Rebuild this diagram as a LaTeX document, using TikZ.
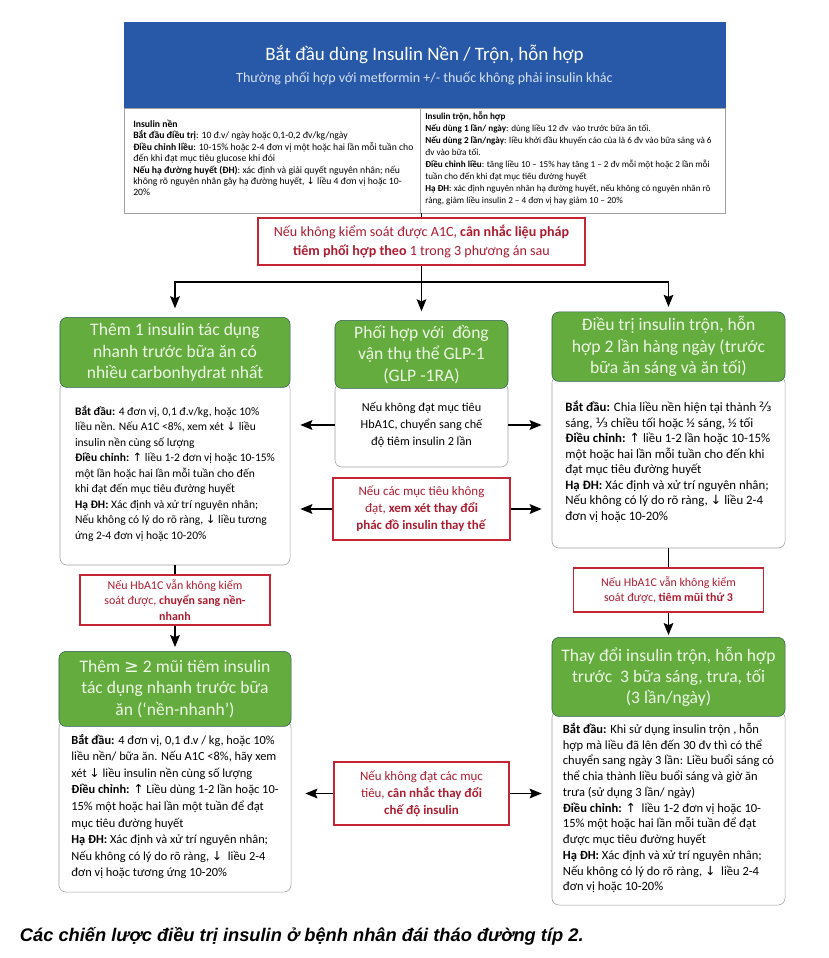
\documentclass[tikz,border=0pt]{standalone}
\usepackage{fontspec}
\setmainfont{Carlito}
\newfontfamily\symfont{DejaVu Sans}
\newfontfamily\capfont{Liberation Sans}
\usetikzlibrary{arrows.meta,positioning}

\definecolor{startblue}{RGB}{40,88,168}
\definecolor{subblue}{RGB}{214,226,244}
\definecolor{headgreen}{RGB}{100,172,62}
\definecolor{headline}{RGB}{48,96,84}
\definecolor{headtext}{RGB}{238,247,230}
\definecolor{warnred}{RGB}{196,36,52}
\definecolor{warntext}{RGB}{172,28,48}
\definecolor{framegray}{RGB}{160,160,160}

\newcommand{\arrup}{{\symfont ↑}}
\newcommand{\arrdn}{{\symfont ↓}}

\begin{document}
\begin{tikzpicture}[
    x=0.025cm, y=-0.025cm,
    startbox/.style={draw=startblue, fill=startblue, minimum width=15.025cm, minimum height=2.15cm, text=white, align=center},
    infobox/.style={draw=framegray, minimum width=15.025cm, minimum height=2.625cm},
    notetext/.style={anchor=north west, inner sep=0pt, align=left, font=\fontsize{6.9}{8.1}\selectfont},
    headbox/.style={draw=headline, fill=headgreen, rounded corners=5pt, inner xsep=2pt, text=headtext, align=center, font=\fontsize{12.5}{15.2}\selectfont},
    bodybox/.style={draw=framegray, fill=white, rounded corners=5pt, align=left, font=\fontsize{8.2}{11}\selectfont},
    warnbox/.style={draw=warnred, line width=1pt, fill=white, text=warntext, inner xsep=2pt, align=center},
    link/.style={line width=1.3pt},
    arrow/.style={-{Stealth[length=0.3cm, width=0.24cm, inset=0.05cm]}, line width=1.3pt}
]
    \useasboundingbox (0,0) rectangle (828,958);
    \fill[white] (0,0) rectangle (828,958);

    % top: basal / premixed start
    \node [startbox] (start) at (424.5,65) {{\fontsize{13.5}{16}\selectfont Bắt đầu dùng Insulin Nền / Trộn, hỗn hợp}\\[3pt]{\fontsize{10}{12}\selectfont\color{subblue}Thường phối hợp với metformin +/- thuốc không phải insulin khác}};
    \node [infobox] (info) at (424.5,160.5) {};
    \draw [framegray] (420,108) -- (420,213);
    \node [notetext] (basal) at (133,120) {\textbf{Insulin nền}\\
        \textbf{Bắt đầu điều trị}: 10 đ.v/ ngày hoặc 0,1-0,2 đv/kg/ngày\\
        \textbf{Điều chỉnh liều}: 10-15\% hoặc 2-4 đơn vị một hoặc hai lần mỗi tuần cho\\
        đến khi đạt mục tiêu glucose khi đói\\
        \textbf{Nếu hạ đường huyết (ĐH)}: xác định và giải quyết nguyên nhân; nếu\\
        không rõ nguyên nhân gây hạ đường huyết, \arrdn{} liều 4 đơn vị hoặc 10-\\
        20\%};
    \node [notetext, font=\fontsize{6.5}{8.5}\selectfont] (mixed) at (425,112) {\textbf{Insulin trộn, hỗn hợp}\\
        \textbf{Nếu dùng 1 lần/ ngày}: dùng liều 12 đv\ \ vào trước bữa ăn tối.\\
        \textbf{Nếu dùng 2 lần/ngày}: liều khởi đầu khuyến cáo của là 6 đv vào bữa sáng và 6\\
        đv vào bữa tối.\\
        \textbf{Điều chỉnh liều}: tăng liều 10 – 15\% hay tăng 1 – 2 đv mỗi một hoặc 2 lần mỗi\\
        tuần cho đến khi đạt mục tiêu đường huyết\\
        \textbf{Hạ ĐH}: xác định nguyên nhân hạ đường huyết, nếu không có nguyên nhân rõ\\
        ràng, giảm liều insulin 2 – 4 đơn vị hay giảm 10 – 20\%};

    \node [warnbox, minimum width=8.175cm, minimum height=1.175cm, font=\fontsize{10}{14}\selectfont] (combine) at (421.5,241.5) {Nếu không kiểm soát được A1C, \textbf{cân nhắc liệu pháp}\\\textbf{tiêm phối hợp theo} 1 trong 3 phương án sau};
    \coordinate (fork) at (421.5,282);

    % three options
    \node [bodybox, minimum width=5.75cm, minimum height=4.575cm] (lb) at (175,473.5) {\textbf{Bắt đầu:} 4 đơn vị, 0,1 đ.v/kg, hoặc 10\%\\
        liều nền. Nếu A1C <8\%, xem xét \arrdn{} liều\\
        insulin nền cùng số lượng\\
        \textbf{Điều chỉnh:} \arrup{} liều 1-2 đơn vị hoặc 10-15\%\\
        một lần hoặc hai lần mỗi tuần cho đến\\
        khi đạt đến mục tiêu đường huyết\\
        \textbf{Hạ ĐH:} Xác định và xử trí nguyên nhân;\\
        Nếu không có lý do rõ ràng, \arrdn{} liều tương\\
        ứng 2-4 đơn vị hoặc 10-20\%};
    \node [headbox, minimum width=5.75cm, minimum height=1.75cm, above=-0.15cm of lb] (lh) {Thêm 1 insulin tác dụng\\nhanh trước bữa ăn có\\nhiều carbonhydrat nhất};

    \node [bodybox, align=center, minimum width=4.325cm, minimum height=2.1cm, font=\fontsize{8.7}{12}\selectfont] (mb) at (421.5,425) {Nếu không đạt mục tiêu\\HbA1C, chuyển sang chế\\độ tiêm insulin 2 lần};
    \node [headbox, minimum width=4.325cm, minimum height=1.7cm, above=-0.15cm of mb] (mh) {Phối hợp với\ \ đồng\\vận thụ thể GLP-1\\(GLP -1RA)};

    \node [bodybox, minimum width=5.825cm, minimum height=4.3cm, font=\fontsize{9.1}{11}\selectfont] (rb) at (668.5,462) {\textbf{Bắt đầu:} Chia liều nền hiện tại thành {\symfont ⅔}\\
        sáng, {\symfont ⅓} chiều tối hoặc ½ sáng, ½ tối\\
        \textbf{Điều chỉnh:} \arrup{} liều 1-2 lần hoặc 10-15\%\\
        một hoặc hai lần mỗi tuần cho đến khi\\
        đạt mục tiêu đường huyết\\
        \textbf{Hạ ĐH:} Xác định và xử trí nguyên nhân;\\
        Nếu không có lý do rõ ràng, \arrdn{} liều 2-4\\
        đơn vị hoặc 10-20\%};
    \node [headbox, minimum width=5.825cm, minimum height=1.725cm, above=-0.15cm of rb] (rh) {Điều trị insulin trộn, hỗn\\hợp 2 lần hàng ngày (trước\\bữa ăn sáng và ăn tối)};

    \node [warnbox, minimum width=4.425cm, minimum height=1.55cm, font=\fontsize{9.2}{12}\selectfont] (midwarn) at (421.5,509) {Nếu các mục tiêu không\\đạt, \textbf{xem xét thay đổi}\\\textbf{phác đồ insulin thay thế}};

    \node [warnbox, minimum width=4.75cm, minimum height=1.25cm, font=\fontsize{8.5}{11}\selectfont] (lwarn) at (175,600) {Nếu HbA1C vẫn không kiểm\\soát được, \textbf{chuyển sang nền-}\\\textbf{nhanh}};
    \node [warnbox, minimum width=4.75cm, minimum height=1.1cm, font=\fontsize{8.5}{11}\selectfont] (rwarn) at (668.5,590) {Nếu HbA1C vẫn không kiểm\\soát được, \textbf{tiêm mũi thứ 3}};

    % intensified regimens
    \node [bodybox, minimum width=5.8cm, minimum height=4.275cm, font=\fontsize{8.8}{11.8}\selectfont] (llb) at (175,806.5) {\textbf{Bắt đầu:} 4 đơn vị, 0,1 đ.v / kg, hoặc 10\%\\
        liều nền/ bữa ăn. Nếu A1C <8\%, hãy xem\\
        xét \arrdn{} liều insulin nền cùng số lượng\\
        \textbf{Điều chỉnh:} \arrup{} Liều dùng 1-2 lần hoặc 10-\\
        15\% một hoặc hai lần một tuần để đạt\\
        mục tiêu đường huyết\\
        \textbf{Hạ ĐH:} Xác định và xử trí nguyên nhân;\\
        Nếu không có lý do rõ ràng, \arrdn{}\ \ liều 2-4\\
        đơn vị hoặc tương ứng 10-20\%};
    \node [headbox, minimum width=5.8cm, minimum height=1.875cm, above=-0.15cm of llb] (llh) {Thêm {\symfont ≥} 2 mũi tiêm insulin\\tác dụng nhanh trước bữa\\ăn (‘nền-nhanh’)};

    \node [bodybox, minimum width=5.825cm, minimum height=4.85cm, font=\fontsize{8.9}{11.2}\selectfont] (lrb) at (668.5,808) {\textbf{Bắt đầu:} Khi sử dụng insulin trộn , hỗn\\
        hợp mà liều đã lên đến 30 đv thì có thể\\
        chuyển sang ngày 3 lần: Liều buổi sáng có\\
        thể chia thành liều buổi sáng và giờ ăn\\
        trưa (sử dụng 3 lần/ ngày)\\
        \textbf{Điều chỉnh:} \arrup{}\ \ liều 1-2 đơn vị hoặc 10-\\
        15\% một hoặc hai lần mỗi tuần để đạt\\
        được mục tiêu đường huyết\\
        \textbf{Hạ ĐH:} Xác định và xử trí nguyên nhân;\\
        Nếu không có lý do rõ ràng, \arrdn{}\ \ liều 2-4\\
        đơn vị hoặc 10-20\%};
    \node [headbox, minimum width=5.825cm, minimum height=1.975cm, above=-0.15cm of lrb] (lrh) {Thay đổi insulin trộn, hỗn hợp\\trước\ \ 3 bữa sáng, trưa, tối\\(3 lần/ngày)};

    \node [warnbox, minimum width=4.375cm, minimum height=1.575cm, font=\fontsize{9.2}{12}\selectfont] (bwarn) at (421.5,793.5) {Nếu không đạt các mục\\tiêu, \textbf{cân nhắc thay đổi}\\\textbf{chế độ insulin}};

    \node [anchor=west, font={\capfont\fontsize{13}{15}\selectfont\bfseries\itshape}] (caption) at (15,936) {Các chiến lược điều trị insulin ở bệnh nhân đái tháo đường típ 2.};

    % connectors
    \draw [link] (combine.north |- info.south) -- (combine.north);
    \draw [link] (combine) -- (fork);
    \draw [link, line cap=rect] (fork -| lh) -- (fork -| rh);
    \draw [arrow, shorten >=0.22cm] (fork -| lh) -- (lh);
    \draw [arrow, shorten >=0.22cm] (fork) -- (mh);
    \draw [arrow, shorten >=0.12cm] (fork -| rh) -- (rh);

    \draw [arrow, shorten >=0.25cm] (mb) -- (mb -| lb.east);
    \draw [arrow, shorten >=0.25cm] (mb) -- (mb -| rb.west);
    \draw [arrow, shorten >=0.25cm] (midwarn) -- (midwarn -| lb.east);
    \draw [arrow, shorten >=0.25cm] (midwarn) -- (midwarn -| rb.west);

    \draw [link] (lb) -- (lwarn);
    \draw [arrow, shorten >=0.1cm] (lwarn) -- (llh);
    \draw [link] (rb) -- (rwarn);
    \draw [arrow, shorten >=0.05cm] (rwarn) -- (lrh);

    \draw [arrow, shorten >=0.35cm] (bwarn) -- (bwarn -| llb.east);
    \draw [arrow, shorten >=0.25cm] (bwarn) -- (bwarn -| lrb.west);

\end{tikzpicture}
\end{document}
